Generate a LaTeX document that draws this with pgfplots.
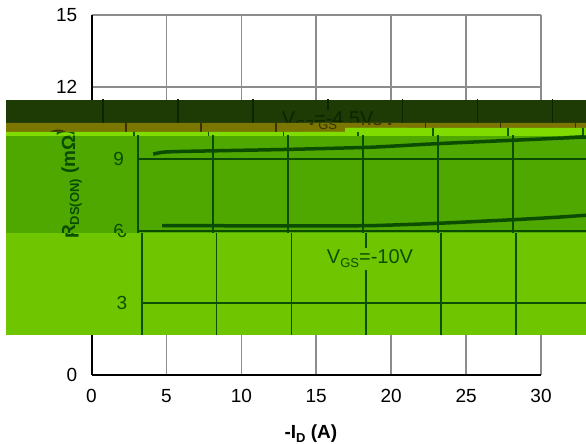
\documentclass[border=0pt]{standalone}
\usepackage{fontspec}
\setmainfont{Liberation Sans}
\usepackage{pgfplots}
\usepackage{pgfplotstable}
\pgfplotsset{compat=1.18}

\pgfplotstableread{
x y
1.0 9.20
1.6 9.28
2.6 9.31
5 9.34
10 9.40
15 9.48
16.5 9.52
20 9.64
25 9.78
30 9.92
}\dataA
\pgfplotstableread{
x y
1.6 6.22
5 6.22
10 6.21
15 6.22
17 6.25
20 6.32
25 6.47
27.6 6.56
30 6.66
}\dataB

\definecolor{cdark}{HTML}{1E3A05}
\definecolor{ldark}{HTML}{0C2400}
\definecolor{colive}{HTML}{7A7600}
\definecolor{lolive}{HTML}{3A3200}
\definecolor{clight}{HTML}{80DC00}
\definecolor{llight}{HTML}{0D5A00}
\definecolor{cmed}{HTML}{4EA800}
\definecolor{lmed}{HTML}{0B4C00}
\definecolor{cbright}{HTML}{6FC600}
\definecolor{lbright}{HTML}{0B5000}
\definecolor{gridgray}{HTML}{8C8C8C}

\newcommand{\sub}[1]{\raisebox{-4pt}{\fontsize{13}{13}\selectfont #1}}

% #1 x position of axis (pt), #2 text/axis/curve colour, #3 grid colour, #4 label background
\newcommand{\chart}[4]{%
\begin{axis}[
  at={(#1pt,69pt)}, anchor=south west,
  scale only axis, width=449.5pt, height=360pt,
  xmin=0, xmax=30, ymin=0, ymax=15,
  xtick={0,5,10,15,20,25,30}, ytick={0,3,6,9,12,15},
  axis lines=left, axis line style={-, line width=2pt, color=#2},
  grid=major, major grid style={line width=1.6pt, color=#3},
  major tick length=0pt,
  /pgf/number format/assume math mode=true,
  tick label style={font=\fontsize{19}{22}\selectfont, text=#2},
  yticklabel style={xshift=-10.7pt},
  xticklabel style={yshift=-10.7pt},
  xlabel={-I\sub{D} (A)},
  xlabel style={at={(axis description cs:0.488,-0.175)}, anchor=base,
    font=\bfseries\fontsize{19}{22}\selectfont, text=#2},
  ylabel={R\sub{DS(ON)} (mΩ)},
  ylabel style={at={(axis description cs:-0.148,0.531)}, anchor=center,
    font=\bfseries\fontsize{19}{22}\selectfont, text=#2},
]
\addplot[color=#2, line width=3.5pt, smooth] table[x=x,y=y] {\dataA};
\addplot[color=#2, line width=3.5pt, smooth] table[x=x,y=y] {\dataB};
\node[fill=#4, inner sep=2pt, text=#2, font=\fontsize{20}{23}\selectfont]
  at (axis cs:15.0,10.6) {V\sub{GS}=-4.5V};
\node[fill=#4, inner sep=2pt, text=#2, font=\fontsize{20}{23}\selectfont]
  at (axis cs:15.25,4.85) {V\sub{GS}=-10V};
\end{axis}}

\begin{document}
\begin{tikzpicture}[x=1pt,y=1pt]
\path[use as bounding box] (0,0) rectangle (586,444);
\clip (0,0) rectangle (586,444);
\chart{91.5}{black}{gridgray}{white}
% dark strip
\begin{scope}
\clip (6,321) rectangle (586,344);
\fill[cdark] (6,321) rectangle (586,344);
\chart{103}{ldark}{ldark}{cdark}
\end{scope}
% olive strip
\begin{scope}
\clip (6,321) -- (586,321) -- (586,316) -- (345,316) -- (345,312) -- (6,312) -- cycle;
\fill[colive] (6,321) -- (586,321) -- (586,316) -- (345,316) -- (345,312) -- (6,312) -- cycle;
\chart{126}{lolive}{lolive}{colive}
\end{scope}
% light strip
\begin{scope}
\clip (6,312) -- (345,312) -- (345,316) -- (586,316) -- (586,308) -- (6,308) -- cycle;
\fill[clight] (6,312) -- (345,312) -- (345,316) -- (586,316) -- (586,308) -- (6,308) -- cycle;
\chart{133.5}{llight}{llight}{clight}
\end{scope}
% medium strip
\begin{scope}
\clip (6,210.5) rectangle (586,308);
\fill[cmed] (6,210.5) rectangle (586,308);
\chart{138.2}{lmed}{lmed}{cmed}
\end{scope}
% bright strip
\begin{scope}
\clip (6,109) rectangle (586,210.5);
\fill[cbright] (6,109) rectangle (586,210.5);
\chart{141.5}{lbright}{lbright}{cbright}
\end{scope}
\end{tikzpicture}
\end{document}
